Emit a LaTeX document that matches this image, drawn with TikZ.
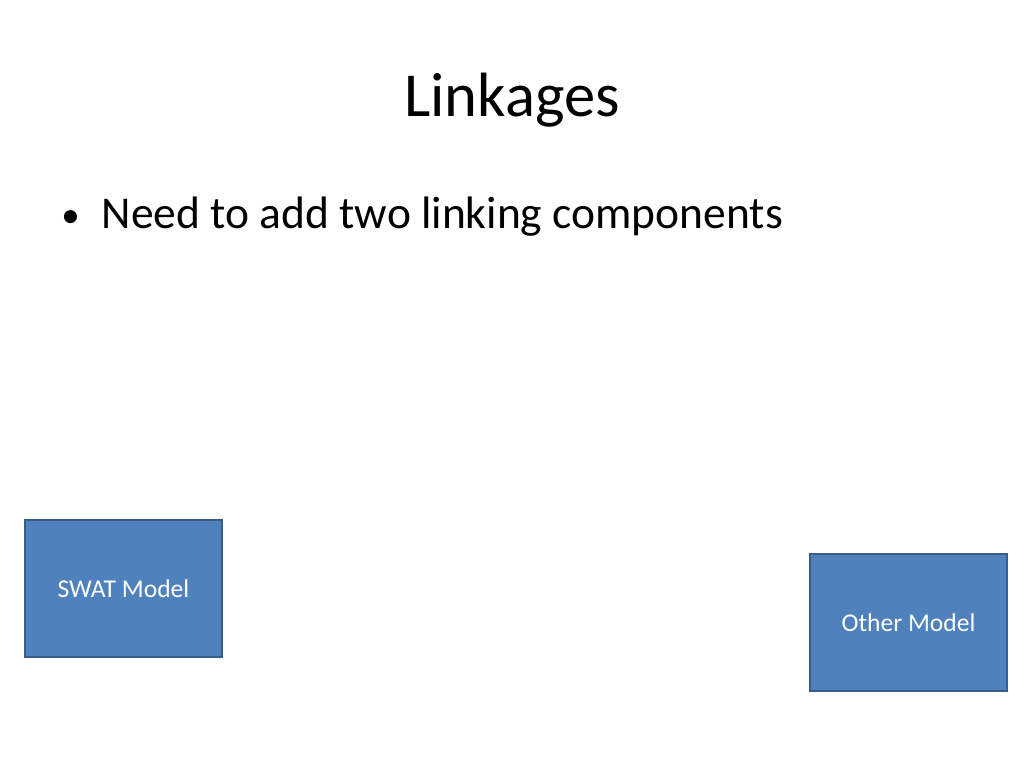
\documentclass[tikz,border=0pt]{standalone}
\usepackage{fontspec}
\setmainfont{Carlito}
\usepackage{xcolor}
\usepackage{tikz}
\usetikzlibrary{
    calc,
    positioning
}
\definecolor{boxfill}{HTML}{4F81BD}
\definecolor{boxline}{HTML}{385D8A}
\tikzset{
    model/.style={draw=boxline, line width=1.4pt, fill=boxfill,
        minimum width=138.5pt, minimum height=96.3pt, inner sep=0pt,
        text=white, font=\fontsize{18}{21}\selectfont},
}
\newcommand{\smallbullet}{{\fontsize{26}{26}\selectfont\raisebox{1.2pt}{\textbullet}}}

\begin{document}
\begin{tikzpicture}[x=0.703125pt, y=-0.703125pt]
        \useasboundingbox (0,0) rectangle (1024,768);

        \draw (512,117) node[anchor=base, font=\fontsize{44}{52}\selectfont](title){Linkages};
        \draw (61,229) node[anchor=base west, inner sep=0pt, font=\fontsize{32}{38}\selectfont](point){\smallbullet\hspace{15.5pt}Need to add two linking components};

        \draw (123.5,588.5) node[model](swat){SWAT Model};
        \draw (908.5,622.5) node[model](other){Other Model};
    \end{tikzpicture}
\end{document}
